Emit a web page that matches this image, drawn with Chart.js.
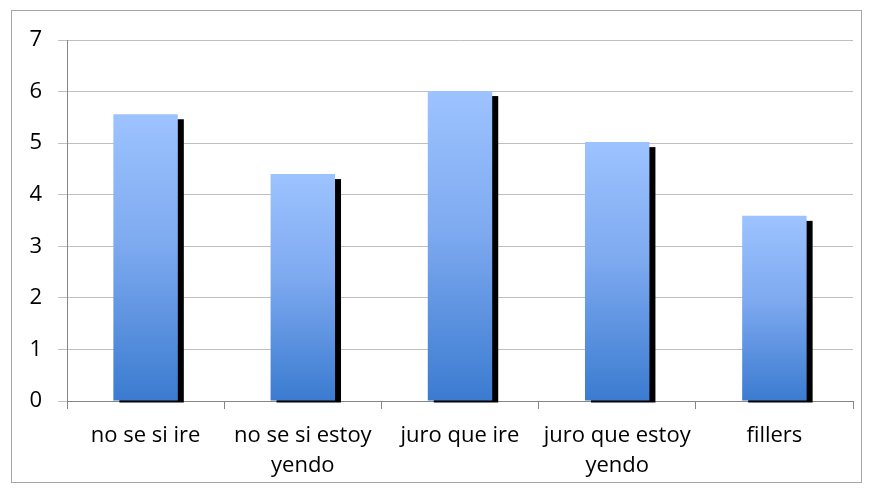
<!DOCTYPE html>
<html>
<head>
<meta charset="utf-8">
<script src="https://cdn.jsdelivr.net/npm/chart.js@4.4.0/dist/chart.umd.min.js"></script>
<style>
  html, body { margin: 0; padding: 0; background: #fff; }
  #wrap { width: 872px; height: 493px; position: relative; }
</style>
</head>
<body>
<div id="wrap"><canvas id="chart" width="872" height="493"></canvas></div>
<script>
var categories = [
    'no se si ire',
    ['no se si estoy', 'yendo'],
    'juro que ire',
    ['juro que estoy', 'yendo'],
    'fillers'
];
var values = [5.56, 4.4, 6.01, 5.02, 3.59];
var y_ticks = [0, 1, 2, 3, 4, 5, 6, 7];

// black drop shadow behind each bar + outer frame
var shadow_plugin = {
    id: 'shadow_plugin',
    beforeDatasetsDraw: function(chart) {
        var ctx = chart.ctx;
        var meta = chart.getDatasetMeta(0);
        ctx.save();
        ctx.fillStyle = '#000';
        meta.data.forEach(function(bar) {
            var left = bar.x - bar.width / 2;
            ctx.fillRect(left + 6, bar.y + 5, bar.width, bar.base - bar.y - 3);
        });
        ctx.restore();
    },
    afterDraw: function(chart) {
        var ctx = chart.ctx;
        ctx.save();
        ctx.strokeStyle = '#a6a6a6';
        ctx.lineWidth = 1;
        ctx.strokeRect(11.5, 10.5, 850, 472);
        ctx.restore();
    }
};

function bar_gradient(context) {
    var chart = context.chart;
    if (!chart.chartArea || context.parsed === undefined) return '#6a9fe8';
    var y = chart.scales.y;
    var top = y.getPixelForValue(context.parsed.y);
    var bottom = y.getPixelForValue(0);
    var g = chart.ctx.createLinearGradient(0, top, 0, bottom);
    g.addColorStop(0, '#9dc3ff');
    g.addColorStop(0.45, '#7eaaf0');
    g.addColorStop(1, '#3b7bd0');
    return g;
}

Chart.defaults.font.family = '"Open Sans", sans-serif';
Chart.defaults.color = '#000';

new Chart(document.getElementById('chart'), {
    type: 'bar',
    data: {
        labels: categories,
        datasets: [{
            data: values,
            backgroundColor: bar_gradient,
            borderWidth: 0,
            categoryPercentage: 1,
            barPercentage: 0.41
        }]
    },
    options: {
        responsive: false,
        animation: false,
        events: [],
        layout: { padding: { left: 0, top: 40, right: 19, bottom: 0 } },
        plugins: {
            legend: { display: false },
            tooltip: { enabled: false }
        },
        scales: {
            x: {
                afterFit: function(scale) { scale.height = 92; },
                border: { color: '#868686', width: 1 },
                grid: {
                    offset: true,
                    drawOnChartArea: false,
                    tickLength: 8,
                    color: '#868686'
                },
                ticks: {
                    font: { size: 22, lineHeight: 1.36 },
                    padding: 12,
                    maxRotation: 0,
                    autoSkip: false
                }
            },
            y: {
                min: 0,
                max: 7,
                afterFit: function(scale) { scale.width = 67; },
                afterBuildTicks: function(scale) {
                    scale.ticks = y_ticks.map(function(v) { return { value: v }; });
                },
                border: { color: '#868686', width: 1 },
                grid: {
                    color: '#bfbfbf',
                    tickLength: 9
                },
                ticks: {
                    font: { size: 22 },
                    padding: 16
                }
            }
        }
    },
    plugins: [shadow_plugin]
});
</script>
</body>
</html>
